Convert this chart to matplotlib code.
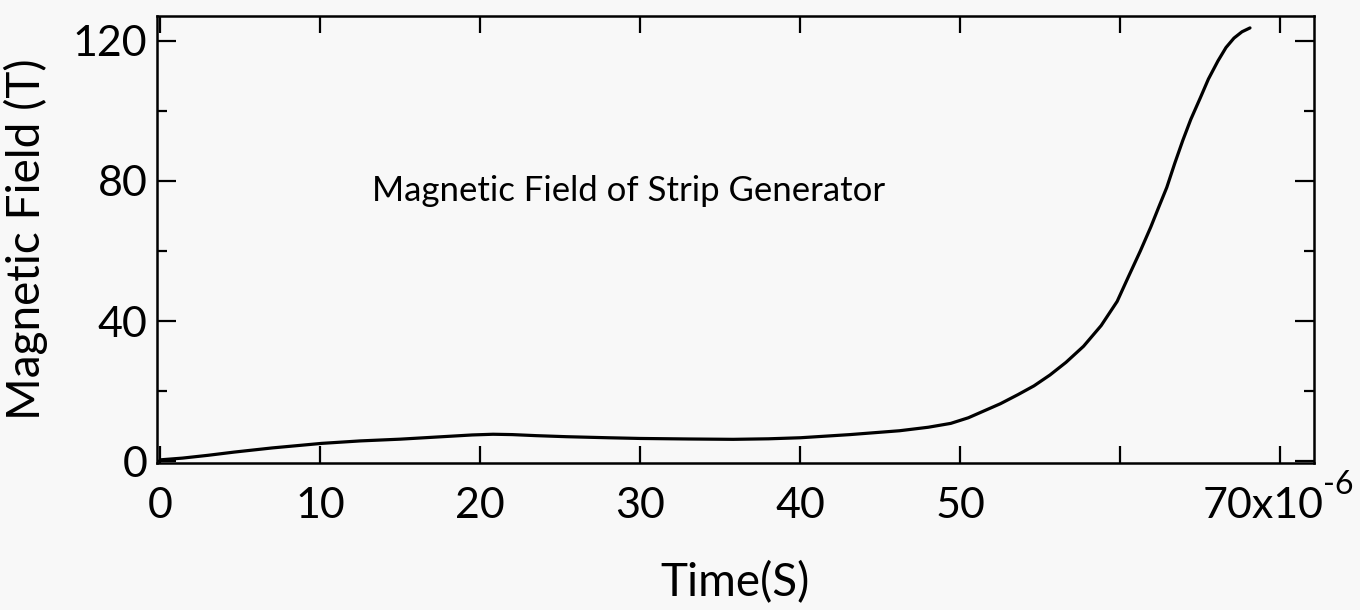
import numpy as np
import matplotlib
matplotlib.use("Agg")
import matplotlib.pyplot as plt
from matplotlib.ticker import MultipleLocator

plt.rcParams['font.family'] = ['Lato', 'DejaVu Sans']

# values (time in microseconds, field in tesla)
time_us = [0, 1.4, 3.0, 4.6, 7.0, 10.1, 12.5, 15, 18, 19.5, 20.8, 22, 23.5,
           25.4, 28, 30, 33, 35.8, 38, 40, 43.1, 46.2, 48, 49.4, 50.5, 51.4,
           52.5, 53.6, 54.6, 55.6, 56.6, 57.7, 58.8, 59.8, 60.5, 61.25,
           61.9, 62.4, 62.9, 63.4, 63.9, 64.4, 65.0, 65.5, 66.1, 66.6,
           67.1, 67.6, 68.1]
field_T = [0.4, 0.9, 1.7, 2.6, 3.8, 5.1, 5.8, 6.3, 7.1, 7.5, 7.7, 7.6, 7.3,
           7.0, 6.7, 6.5, 6.35, 6.25, 6.4, 6.7, 7.6, 8.7, 9.7, 10.8, 12.4,
           14.2, 16.4, 19.0, 21.5, 24.6, 28.2, 32.8, 38.7, 45.6, 52.6,
           60.0, 66.8, 72.5, 78.1, 85.0, 91.5, 97.5, 103.7, 109.0, 114.2,
           118.0, 120.7, 122.5, 123.6]
x_ticks = [0, 10, 20, 30, 40, 50, 60, 70]
x_labels = ['0', '10', '20', '30', '40', '50', '', '']
y_ticks = [0, 40, 80, 120]

fig = plt.figure(figsize=(13.6, 6.1), dpi=100, facecolor='#f8f8f8')
ax = fig.add_axes([157/1360, 1 - 463/610, (1314-157)/1360, (463-16)/610])
ax.set_facecolor('#f8f8f8')

ax.plot(time_us, field_T, color='black', lw=2.3,
        solid_capstyle='round', solid_joinstyle='round')

ax.set_xlim(-0.2, 72.1)
ax.set_ylim(-0.5, 127)
ax.set_xticks(x_ticks)
ax.set_xticklabels(x_labels)
ax.set_yticks(y_ticks)
ax.yaxis.set_minor_locator(MultipleLocator(20))

ax.tick_params(axis='both', which='both', direction='in', top=True, right=True,
               width=1.6, labelsize=31, color='black')
ax.tick_params(axis='x', which='major', length=12, pad=17)
ax.tick_params(axis='y', which='major', length=14, pad=7)
ax.tick_params(axis='y', which='minor', length=7)
for s in ax.spines.values():
    s.set_linewidth(1.8)

# last x label with a raised exponent, as in the original
ax.annotate('70x10', xy=(70, 0), xycoords=('data', 'axes fraction'),
            xytext=(31, -17), textcoords='offset points',
            ha='right', va='top', fontsize=31)
ax.annotate('-6', xy=(70, 0), xycoords=('data', 'axes fraction'),
            xytext=(31, -5), textcoords='offset points',
            ha='left', va='top', fontsize=23)

ax.set_xlabel('Time(S)', fontsize=33, labelpad=26)
ax.set_ylabel('Magnetic Field (T)', fontsize=33, labelpad=18)
ax.text(29.25, 77, 'Magnetic Field of Strip Generator', fontsize=25,
        ha='center', va='center')

fig.savefig('out.png', dpi=100, facecolor=fig.get_facecolor())
